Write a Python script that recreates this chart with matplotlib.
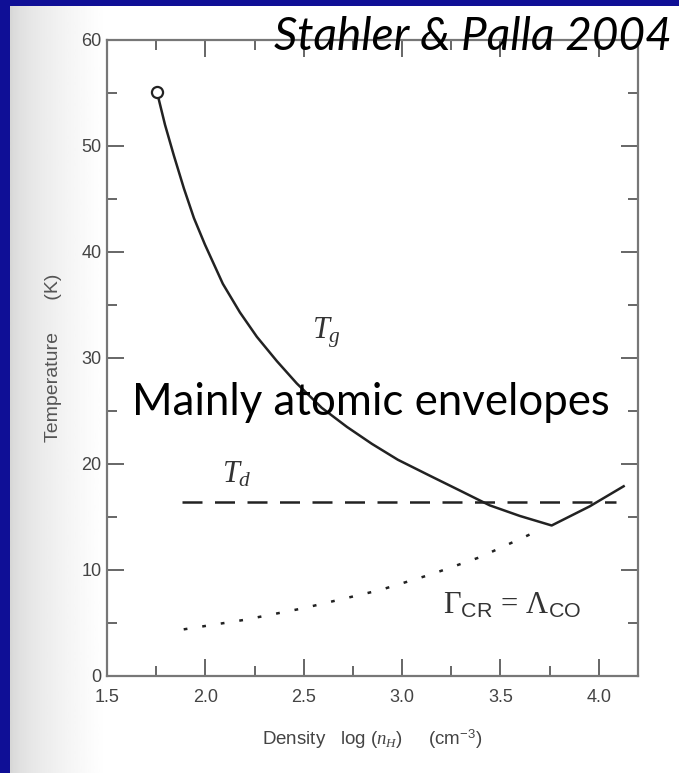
import numpy as np
import matplotlib
matplotlib.use("Agg")
import matplotlib.pyplot as plt
from matplotlib.ticker import MultipleLocator

plt.rcParams['mathtext.fontset'] = 'custom'
plt.rcParams['mathtext.rm'] = 'Liberation Serif'
plt.rcParams['mathtext.it'] = 'Liberation Serif:italic'
plt.rcParams['mathtext.sf'] = 'Liberation Sans'

# gas temperature curve T_g
tg_x = [1.754, 1.795, 1.840, 1.891, 1.942, 1.998, 2.089, 2.176, 2.262, 2.364, 2.465,
        2.592, 2.720, 2.847, 2.979, 3.141, 3.294, 3.446, 3.599, 3.761, 3.954, 4.127]
tg_y = [55.1, 52.0, 49.1, 46.0, 43.2, 40.7, 37.0, 34.3, 32.0, 29.7, 27.6,
        25.3, 23.5, 21.9, 20.4, 18.9, 17.5, 16.1, 15.1, 14.2, 16.0, 17.9]

# dust temperature T_d (flat)
td_x = [1.88, 4.09]
td_y = [16.4, 16.4]

# cosmic ray heating = CO cooling
cr_x = [1.89, 2.2, 2.5, 2.887, 3.15, 3.395, 3.715]
cr_y = [4.4, 5.3, 6.4, 8.1, 9.6, 11.2, 13.9]

W, H = 679, 773
fig = plt.figure(figsize=(W / 100, H / 100), dpi=100)
fig.patch.set_facecolor('#0f0f96')

# paper background with a grey shade on the left
bg = fig.add_axes([10 / W, 0, 1 - 10 / W, 1 - 6 / H])
grad = np.linspace(0, 1, 300)
shade = 0.84 + 0.16 * np.clip(grad / 0.14, 0, 1) ** 0.6
bg.imshow(shade[None, :], cmap='gray', vmin=0, vmax=1, aspect='auto', extent=[0, 1, 0, 1])
bg.set_axis_off()

ax = fig.add_axes([107 / W, 1 - 676 / H, (638 - 107) / W, (676 - 40) / H])
ax.patch.set_alpha(0)

ax.plot(tg_x, tg_y, color='#222222', lw=1.8)
ax.plot(tg_x[0], tg_y[0], 'o', ms=8, mfc='white', mec='#222222', mew=1.6)
ax.plot(td_x, td_y, color='#222222', lw=1.8, dashes=(8, 5))
ax.plot(cr_x, cr_y, color='#222222', lw=1.8, dashes=(1.5, 6))

ax.set_xlim(1.5, 4.2)
ax.set_ylim(0, 60)
ax.xaxis.set_major_locator(MultipleLocator(0.5))
ax.xaxis.set_minor_locator(MultipleLocator(0.25))
ax.yaxis.set_major_locator(MultipleLocator(10))
ax.yaxis.set_minor_locator(MultipleLocator(5))
ax.set_xticks([1.5, 2.0, 2.5, 3.0, 3.5, 4.0])
ax.set_xticklabels(['1.5', '2.0', '2.5', '3.0', '3.5', '4.0'])
ax.tick_params(which='both', direction='in', top=True, right=True, colors='#666666',
               labelcolor='#444444', labelsize=13)
ax.tick_params(which='major', length=12, width=1.4)
ax.tick_params(which='minor', length=7, width=1.4)
ax.tick_params(axis='x', pad=9)
ax.tick_params(axis='y', pad=4)
for lab in ax.get_xticklabels() + ax.get_yticklabels():
    lab.set_family('Liberation Sans')
for s in ax.spines.values():
    s.set_color('#777777')
    s.set_linewidth(1.6)

ax.set_xlabel(r'Density   log ($n_H$)     (cm$^{\mathsf{-3}}$)', fontsize=13.5, color='#444444',
              labelpad=16, family='Liberation Sans')
ax.set_ylabel('Temperature      (K)', fontsize=14, color='#555555', labelpad=14,
              family='Liberation Sans')

ax.text(2.618, 32.4, r'$T_g$', fontsize=22, color='#333333', ha='center', va='center')
ax.text(2.16, 19.0, r'$T_d$', fontsize=22, color='#333333', ha='center', va='center')
ax.text(3.558, 6.7, r'$\Gamma_{\mathsf{CR}}\, =\, \Lambda_{\mathsf{CO}}$', fontsize=22,
        color='#333333', ha='center', va='center')

fig.text(132 / W, 1 - 415 / H, 'Mainly atomic envelopes', fontsize=31.5, color='black',
         ha='left', va='baseline', family='Lato')
fig.text(672 / W, 1 - 50 / H, 'Stahler & Palla 2004', fontsize=33, color='black',
         ha='right', va='baseline', style='italic', family='Lato')

fig.savefig('out.png', dpi=100, facecolor=fig.get_facecolor())
